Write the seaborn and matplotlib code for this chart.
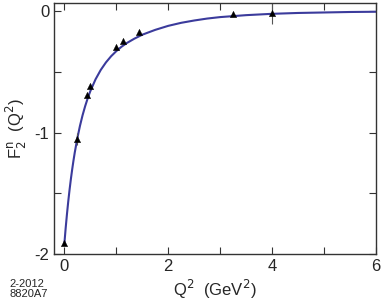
import numpy as np
import pandas as pd
import matplotlib
matplotlib.use("Agg")
import matplotlib.pyplot as plt
import seaborn as sns
from matplotlib.ticker import MultipleLocator

# measured points (triangles)
q2_data = [0.0, 0.24, 0.44, 0.49, 0.99, 1.13, 1.44, 3.25, 4.0]
f2n_data = [-1.91, -1.05, -0.69, -0.62, -0.30, -0.245, -0.17, -0.025, -0.015]
f2n_err = [0.0, 0.05, 0.0, 0.0, 0.0, 0.0, 0.0, 0.0, 0.09]

# fit curve
q2_fit = [0.0, 0.025, 0.05, 0.075, 0.1, 0.125, 0.15, 0.175, 0.2, 0.25, 0.3,
          0.35, 0.4, 0.45, 0.5, 0.6, 0.7, 0.8, 0.9, 1.0, 1.1, 1.2, 1.35, 1.5,
          1.75, 2.0, 2.25, 2.5, 2.75, 3.0, 3.5, 4.0, 4.5, 5.0, 5.5, 6.0]
f2n_fit = [-1.913, -1.785, -1.67, -1.565, -1.47, -1.383, -1.304, -1.231,
           -1.164, -1.046, -0.945, -0.858, -0.783, -0.717, -0.659, -0.562,
           -0.485, -0.423, -0.372, -0.33, -0.294, -0.264, -0.227, -0.195,
           -0.155, -0.122, -0.097, -0.078, -0.062, -0.05, -0.034, -0.023,
           -0.016, -0.012, -0.008, -0.006]

sns.set_style("ticks")
plt.rcParams["font.family"] = ["Liberation Sans", "DejaVu Sans"]
plt.rcParams["axes.unicode_minus"] = False

fig = plt.figure(figsize=(3.82, 3.03), dpi=100)
ax = fig.add_axes([54 / 382, 1 - 254 / 303, 322 / 382, 251 / 303])

fit_df = pd.DataFrame({"q2": q2_fit, "f2n": f2n_fit})
sns.lineplot(data=fit_df, x="q2", y="f2n", ax=ax, color="#3b3b9c", lw=1.5)

ax.errorbar(q2_data, f2n_data, yerr=f2n_err, fmt="none", ecolor="#555555", elinewidth=0.8)
sns.scatterplot(x=q2_data, y=f2n_data, ax=ax, marker="^", color="black", s=20,
                edgecolor="black", zorder=5)

ax.set_xlim(-0.2, 6)
ax.set_ylim(-2, 0.066)
ax.xaxis.set_major_locator(MultipleLocator(2))
ax.xaxis.set_minor_locator(MultipleLocator(1))
ax.yaxis.set_major_locator(MultipleLocator(1))
ax.yaxis.set_minor_locator(MultipleLocator(0.5))
ax.tick_params(which="both", direction="in", top=True, right=True,
               labelsize=12, color="#333333", width=0.8, length=5)
for s in ax.spines.values():
    s.set_linewidth(1.0)
    s.set_color("#333333")

ax.set_xlabel("Q$^2$  (GeV$^2$)", fontsize=12, labelpad=3)
ax.set_ylabel(r"F$_2^\mathrm{n}$  (Q$^2$)", fontsize=12, labelpad=4)
fig.text(0.025, 0.02, "2-2012\n8820A7", fontsize=8, linespacing=1.0)

fig.savefig("out.png", dpi=100)
